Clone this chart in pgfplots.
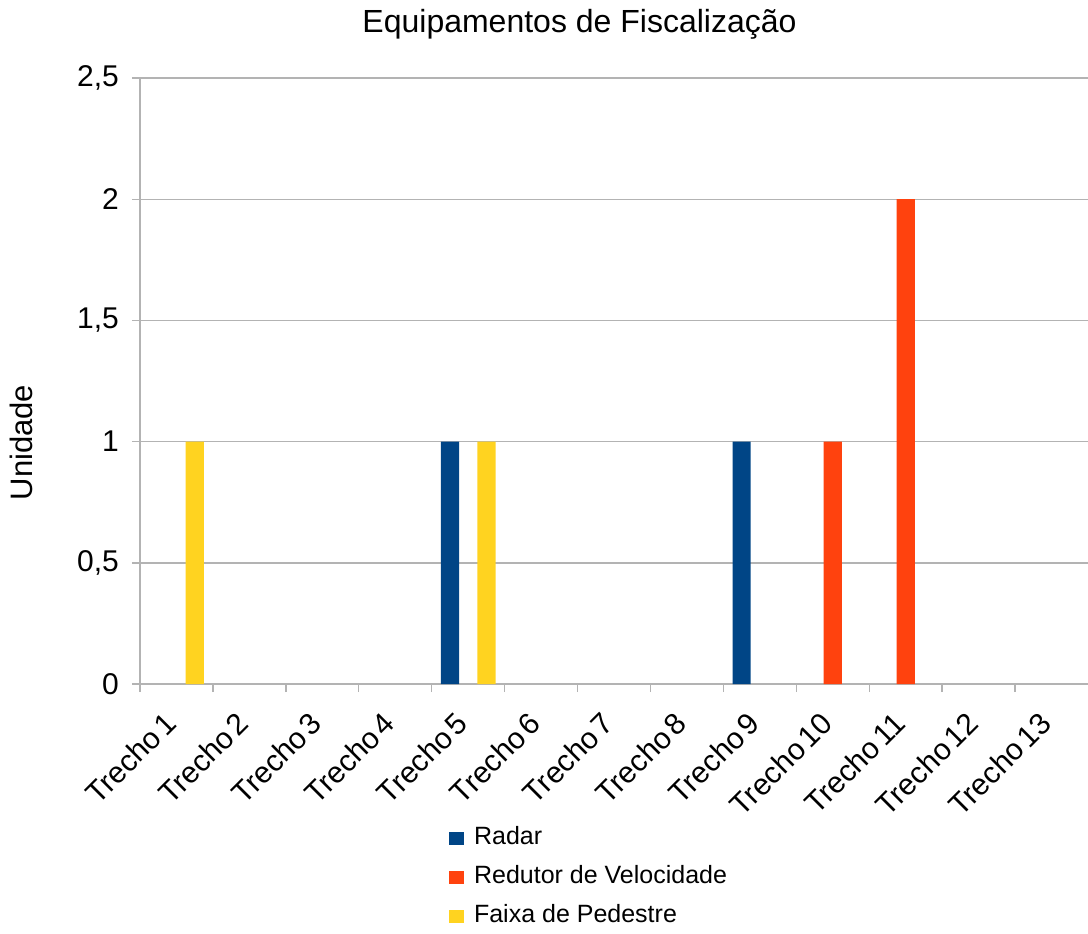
\documentclass[border=0pt]{standalone}
\usepackage{fontspec}
\setmainfont{Liberation Sans}
\usepackage{pgfplots}
\usepackage{pgfplotstable}
\pgfplotsset{compat=1.18}

\definecolor{radar}{HTML}{004586}
\definecolor{redutor}{HTML}{FF420E}
\definecolor{faixa}{HTML}{FFD320}
\definecolor{gridgray}{HTML}{B3B3B3}

% equipamentos por trecho (0 = Trecho 1 ... 12 = Trecho 13)
\pgfplotstableread{
idx radar redutor faixa
0   0     0       1
1   0     0       0
2   0     0       0
3   0     0       0
4   1     0       1
5   0     0       0
6   0     0       0
7   0     0       0
8   1     0       0
9   0     1       0
10  0     2       0
11  0     0       0
12  0     0       0
}\dados

\begin{document}
\begin{tikzpicture}
\begin{axis}[
  at={(0,0)}, anchor=south west,
  scale only axis,
  width=474pt, height=303pt,
  ybar, bar width=0.25,
  xmin=-0.5, xmax=12.5,
  ymin=0, ymax=2.5,
  unbounded coords=discard,
  restrict y to domain=0.001:100,
  axis x line*=bottom, axis y line*=left,
  axis line style={draw=gridgray, line width=0.7pt, -},
  tick align=outside,
  major tick length=4pt, minor tick length=4pt,
  tick style={draw=gridgray, line width=0.7pt},
  xtick={0,...,12},
  xticklabels={Trecho 1,Trecho 2,Trecho 3,Trecho 4,Trecho 5,Trecho 6,Trecho 7,Trecho 8,Trecho 9,Trecho 10,Trecho 11,Trecho 12,Trecho 13},
  minor xtick={-0.5,0.5,...,11.5},
  every major x tick/.style={draw=none},
  xticklabel style={xshift=-7pt, rotate=45, anchor=north east, inner sep=0pt,
    font=\fontsize{15}{18}\selectfont,
    execute at begin node={\spaceskip=0.12em\relax}},
  xticklabel shift=9pt,
  ytick={0,0.5,1,1.5,2,2.5},
  yticklabels={0,{0,5},1,{1,5},2,{2,5}},
  yticklabel style={xshift=-3pt, font=\fontsize{15}{18}\selectfont},
  ymajorgrids,
  grid style={draw=gridgray, line width=0.7pt},
  title={Equipamentos de Fiscalização},
  title style={at={(axis description cs:0.4636,1.0759)}, anchor=base, yshift=-6pt, font=\fontsize{16}{19}\selectfont},
  ylabel={Unidade},
  every axis y label/.style={at={(axis description cs:-0.1129,0.3985)}, rotate=90, anchor=base, font=\fontsize{15.5}{18}\selectfont},
  legend style={at={(axis description cs:0.326,-0.2343)}, anchor=north west,
    draw=none, fill=none, inner sep=0pt, outer sep=0pt,
    font=\fontsize{12.5}{15}\selectfont, row sep=7pt,
    nodes={inner sep=0pt, text height=9.5pt, text depth=3pt},
    /tikz/every odd column/.append style={column sep=5pt}},
  legend cell align=left,
  legend image code/.code={\fill[#1] (0pt,-3.25pt) rectangle (7.5pt,3.25pt);},
]
\addplot[fill=radar, draw=none, bar shift=-0.25] table[x=idx, y=radar] {\dados};
\addplot[fill=redutor, draw=none, bar shift=0] table[x=idx, y=redutor] {\dados};
\addplot[fill=faixa, draw=none, bar shift=0.25] table[x=idx, y=faixa] {\dados};
\legend{Radar, Redutor de Velocidade, Faixa de Pedestre}
\end{axis}
\pgfresetboundingbox
\path[use as bounding box] (-70pt,-124.5pt) rectangle (474pt,342pt);
\end{tikzpicture}
\end{document}
